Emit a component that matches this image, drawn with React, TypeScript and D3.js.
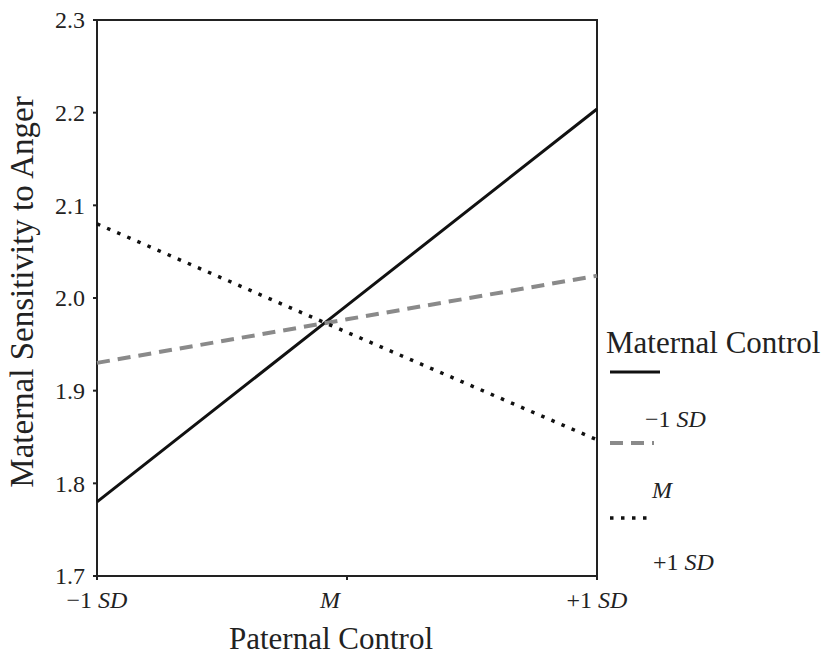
import React from 'react';
import * as d3 from 'd3';

// paternal control levels on the x axis
const paternalLevels = ['-1', 'M', '+1'];
// y ticks
const yTicks = [1.7, 1.8, 1.9, 2.0, 2.1, 2.2, 2.3];

// maternal control series (simple slopes)
const lowMaternal = [1.78, 1.992, 2.204];
const meanMaternal = [1.93, 1.977, 2.024];
const highMaternal = [2.08, 1.963, 1.847];

const seriesNames = ['-1 SD', 'M', '+1 SD'];

const FONT = '"Liberation Serif", "Times New Roman", serif';

const SdLabel = ({ prefix, x, y, size, anchor }: any) => (
  <text x={x} y={y} fontSize={size} textAnchor={anchor} fontFamily={FONT} fill="#222">
    {prefix === 'M' ? (
      <tspan fontStyle="italic">M</tspan>
    ) : (
      <>
        <tspan>{prefix === '-1' ? '\u22121 ' : '+1 '}</tspan>
        <tspan fontStyle="italic">SD</tspan>
      </>
    )}
  </text>
);

export default function App() {
  const width = 826;
  const height = 657;

  // plot box
  const x = d3.scalePoint<string>().domain(paternalLevels).range([97, 597]);
  const y = d3.scaleLinear().domain([1.7, 2.3]).range([576, 20]);

  const line = d3
    .line<number>()
    .x((_, i) => x(paternalLevels[i]) as number)
    .y((d) => y(d));

  const styles = [
    { stroke: '#111', width: 3, dash: undefined },
    { stroke: '#8a8a8a', width: 4, dash: '13,8' },
    { stroke: '#111', width: 3.5, dash: '3.5,7.5' },
  ];
  const allSeries = [lowMaternal, meanMaternal, highMaternal];

  // legend layout
  const legendX = 610;
  const legendLineY = [372, 443, 518];
  const legendLabel = [
    { x: 645, y: 427 },
    { x: 652, y: 498 },
    { x: 653, y: 570 },
  ];

  return (
    <svg
      width={width}
      height={height}
      style={{ position: 'absolute', left: 0, top: 0, background: '#fff' }}
    >
      {/* box: left, bottom, top, right */}
      <path
        d={`M${x('-1')},${y(2.3)}V${y(1.7)}H${x('+1')}V${y(2.3)}Z`}
        fill="none"
        stroke="#222"
        strokeWidth={2}
      />

      {/* y ticks */}
      {yTicks.map((t) => (
        <g key={t} transform={`translate(${x('-1')},${y(t)})`}>
          <line x1={-4} x2={0} stroke="#222" strokeWidth={2} />
          <text x={-12} dy="0.35em" textAnchor="end" fontSize={24} fontFamily={FONT} fill="#222">
            {t.toFixed(1)}
          </text>
        </g>
      ))}

      {/* x ticks */}
      {paternalLevels.map((p, i) => (
        <g key={p} transform={`translate(${x(p)},${y(1.7)})`}>
          <line y1={0} y2={4} stroke="#222" strokeWidth={2} />
          <SdLabel prefix={p} x={i === 1 ? -17 : 0} y={32} size={24} anchor="middle" />
        </g>
      ))}

      {/* axis titles */}
      <text
        x={331}
        y={649}
        textAnchor="middle"
        fontSize={31}
        fontFamily={FONT}
        fill="#222"
      >
        Paternal Control
      </text>
      <text
        transform="translate(33,292) rotate(-90)"
        textAnchor="middle"
        fontSize={33}
        fontFamily={FONT}
        fill="#222"
      >
        Maternal Sensitivity to Anger
      </text>

      {/* lines */}
      {allSeries.map((s, i) => (
        <path
          key={seriesNames[i]}
          d={line(s) as string}
          fill="none"
          stroke={styles[i].stroke}
          strokeWidth={styles[i].width}
          strokeDasharray={styles[i].dash}
        />
      ))}

      {/* legend */}
      <text x={606} y={353} fontSize={31} fontFamily={FONT} fill="#222">
        Maternal Control
      </text>
      {seriesNames.map((n, i) => (
        <g key={n}>
          <line
            x1={legendX}
            x2={i === 0 ? 660 : 654}
            y1={legendLineY[i]}
            y2={legendLineY[i]}
            stroke={styles[i].stroke}
            strokeWidth={styles[i].width}
            strokeDasharray={styles[i].dash}
          />
          <SdLabel
            prefix={paternalLevels[i]}
            x={legendLabel[i].x}
            y={legendLabel[i].y}
            size={24}
            anchor="start"
          />
        </g>
      ))}
    </svg>
  );
}
